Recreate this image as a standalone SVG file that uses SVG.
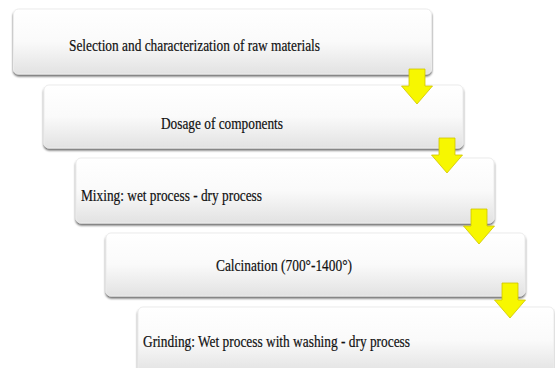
<svg xmlns="http://www.w3.org/2000/svg" width="555" height="368" viewBox="0 0 555 368">
<defs>
<linearGradient id="g" x1="0" y1="0" x2="0" y2="1">
<stop offset="0" stop-color="#ffffff"/>
<stop offset="0.5" stop-color="#fafafa"/>
<stop offset="1" stop-color="#e2e2e2"/>
</linearGradient>
<filter id="sh" x="-5%" y="-10%" width="110%" height="130%">
<feGaussianBlur in="SourceAlpha" stdDeviation="1"/>
<feOffset dx="0" dy="1.5"/>
<feComponentTransfer><feFuncA type="linear" slope="0.6"/></feComponentTransfer>
<feMerge><feMergeNode/><feMergeNode in="SourceGraphic"/></feMerge>
</filter>
<path id="arr" d="M-8,0 H8 V17 H15.5 L0,35 L-15.5,17 H-8 Z"/>
</defs>
<style>
.box{fill:url(#g);stroke:#ececec;stroke-width:1;filter:url(#sh)}
.a{fill:#f7f700;stroke:#cfc400;stroke-width:0.8}
</style>
<rect width="555" height="368" fill="#ffffff"/>
<g font-family="'Times New Roman', 'Liberation Serif', serif" font-size="16" fill="#111" stroke="#111" stroke-width="0.2">
<g id="n1"><rect class="box" x="13.5" y="9" width="418" height="65" rx="5"/><text x="69" y="51" textLength="251" lengthAdjust="spacingAndGlyphs">Selection and characterization of raw materials</text></g>
<g id="n2"><rect class="box" x="44" y="85" width="419" height="63" rx="5"/><text x="161" y="129" textLength="122" lengthAdjust="spacingAndGlyphs">Dosage of components</text></g>
<g id="n3"><rect class="box" x="76" y="158" width="418" height="65" rx="5"/><text x="81" y="201" textLength="181" lengthAdjust="spacingAndGlyphs">Mixing: wet process - dry process</text></g>
<g id="n4"><rect class="box" x="106" y="233" width="419" height="63" rx="5"/><text x="216" y="271" textLength="136" lengthAdjust="spacingAndGlyphs">Calcination (700°-1400°)</text></g>
<g id="n5"><rect class="box" x="138" y="307" width="416" height="66" rx="5"/><text x="143" y="347" textLength="267" lengthAdjust="spacingAndGlyphs">Grinding: Wet process with washing - dry process</text></g>
</g>
<g id="connectors">
<use href="#arr" class="a" x="417" y="69"/>
<use href="#arr" class="a" x="447" y="138"/>
<use href="#arr" class="a" x="479" y="209"/>
<use href="#arr" class="a" x="510" y="283"/>
</g>
</svg>
